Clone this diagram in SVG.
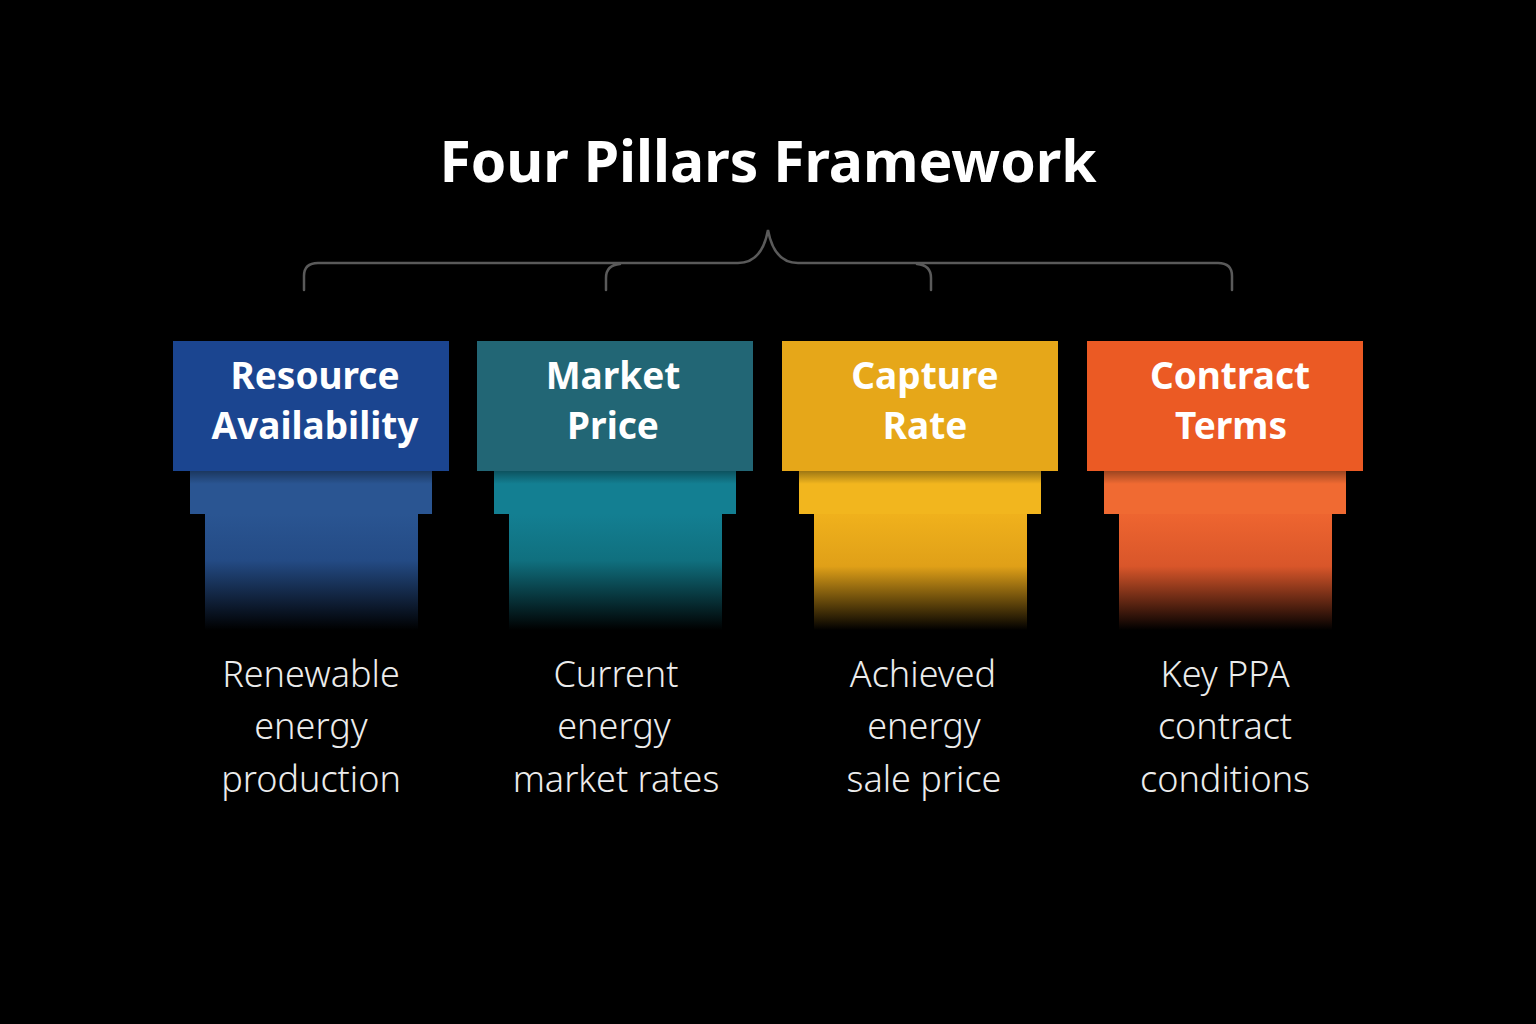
<svg xmlns="http://www.w3.org/2000/svg" width="1536" height="1024" viewBox="0 0 1536 1024">
<defs>
<style>
.title{font-family:"Noto Sans","Open Sans","DejaVu Sans",sans-serif;font-weight:700;font-size:57px;fill:#fff;text-anchor:middle}
.head{font-family:"Noto Sans","Open Sans","DejaVu Sans",sans-serif;font-weight:700;font-size:37px;fill:#fff;text-anchor:middle}
.desc{font-family:"Noto Sans","Open Sans","DejaVu Sans",sans-serif;font-weight:300;font-size:36px;fill:#ececec;text-anchor:middle}
.br{fill:none;stroke:#5a5a5a;stroke-width:2.5;stroke-linecap:round}
</style>
<linearGradient id="shade" x1="0" y1="0" x2="0" y2="1">
<stop offset="0" stop-color="#000" stop-opacity="0.35"/>
<stop offset="0.3" stop-color="#000" stop-opacity="0"/>
<stop offset="1" stop-color="#000" stop-opacity="0"/>
</linearGradient>
<linearGradient id="s1" x1="0" y1="0" x2="0" y2="1">
<stop offset="0" stop-color="#2a5592"/><stop offset="0.4" stop-color="#244b85"/><stop offset="1" stop-color="#000"/>
</linearGradient>
<linearGradient id="s2" x1="0" y1="0" x2="0" y2="1">
<stop offset="0" stop-color="#137f92"/><stop offset="0.4" stop-color="#10707f"/><stop offset="1" stop-color="#000"/>
</linearGradient>
<linearGradient id="s3" x1="0" y1="0" x2="0" y2="1">
<stop offset="0" stop-color="#f0b11c"/><stop offset="0.45" stop-color="#e0a018"/><stop offset="1" stop-color="#000"/>
</linearGradient>
<linearGradient id="s4" x1="0" y1="0" x2="0" y2="1">
<stop offset="0" stop-color="#ee6530"/><stop offset="0.45" stop-color="#d9562a"/><stop offset="1" stop-color="#000"/>
</linearGradient>
</defs>
<rect width="1536" height="1024" fill="#000"/>
<text class="title" x="768" y="182">Four Pillars Framework</text>
<g id="connectors">
<path class="br" d="M304,290 V276 Q304,263 318,263 H738 Q762,263 768,230 Q774,263 798,263 H1218 Q1232,263 1232,276 V290"/>
<path class="br" d="M606,290 V278 Q606,265 620,264"/>
<path class="br" d="M931,290 V278 Q931,265 917,264"/>
</g>
<g id="pillar-resource">
<rect x="205" y="514" width="213" height="116" fill="url(#s1)"/>
<rect x="190" y="471" width="242" height="43" fill="#2a5592"/>
<rect x="190" y="471" width="242" height="43" fill="url(#shade)"/>
<rect x="173" y="341" width="276" height="130" fill="#1b4590"/>
<text class="head" x="315" y="389">Resource</text>
<text class="head" x="315" y="439">Availability</text>
<text class="desc" x="311" y="687">Renewable</text>
<text class="desc" x="311" y="739">energy</text>
<text class="desc" x="311" y="792">production</text>
</g>
<g id="pillar-market">
<rect x="509" y="514" width="213" height="116" fill="url(#s2)"/>
<rect x="494" y="471" width="242" height="43" fill="#137f92"/>
<rect x="494" y="471" width="242" height="43" fill="url(#shade)"/>
<rect x="477" y="341" width="276" height="130" fill="#226675"/>
<text class="head" x="613" y="389">Market</text>
<text class="head" x="613" y="439">Price</text>
<text class="desc" x="616" y="687">Current</text>
<text class="desc" x="614" y="739">energy</text>
<text class="desc" x="616" y="792">market rates</text>
</g>
<g id="pillar-capture">
<rect x="814" y="514" width="213" height="116" fill="url(#s3)"/>
<rect x="799" y="471" width="242" height="43" fill="#f2b61e"/>
<rect x="799" y="471" width="242" height="43" fill="url(#shade)"/>
<rect x="782" y="341" width="276" height="130" fill="#e6a719"/>
<text class="head" x="925" y="389">Capture</text>
<text class="head" x="925" y="439">Rate</text>
<text class="desc" x="923" y="687">Achieved</text>
<text class="desc" x="924" y="739">energy</text>
<text class="desc" x="924" y="792">sale price</text>
</g>
<g id="pillar-contract">
<rect x="1119" y="514" width="213" height="116" fill="url(#s4)"/>
<rect x="1104" y="471" width="242" height="43" fill="#f06a32"/>
<rect x="1104" y="471" width="242" height="43" fill="url(#shade)"/>
<rect x="1087" y="341" width="276" height="130" fill="#eb5a24"/>
<text class="head" x="1230" y="389">Contract</text>
<text class="head" x="1231" y="439">Terms</text>
<text class="desc" x="1225" y="687">Key PPA</text>
<text class="desc" x="1225" y="739">contract</text>
<text class="desc" x="1225" y="792">conditions</text>
</g>
</svg>
